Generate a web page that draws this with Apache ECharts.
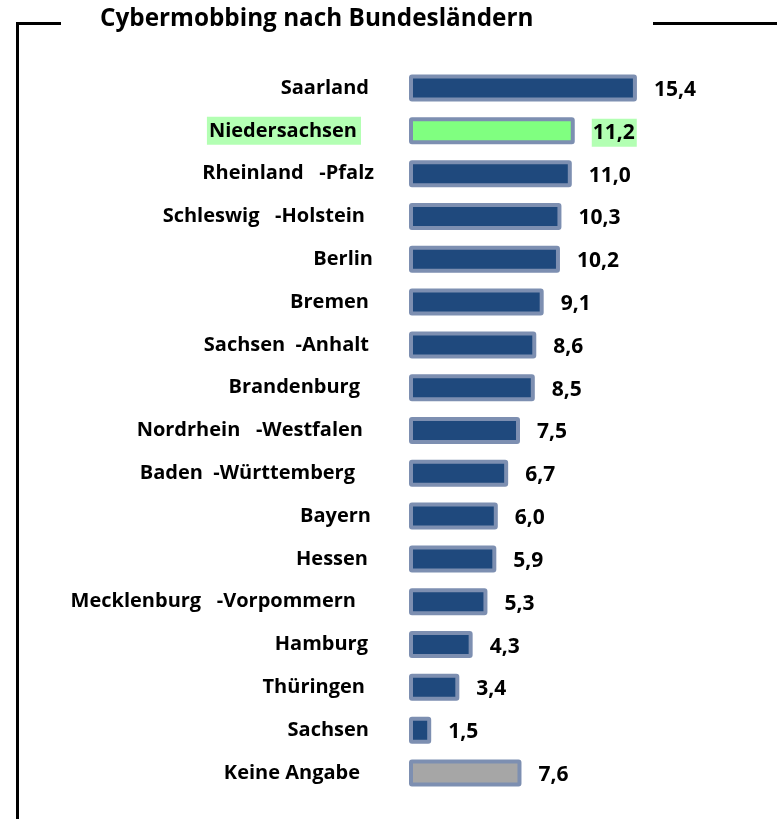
<!DOCTYPE html>
<html>
<head>
<meta charset="utf-8">
<script src="https://cdn.jsdelivr.net/npm/echarts@6/dist/echarts.min.js"></script>
<style>
  html, body { margin: 0; padding: 0; background: #ffffff; }
  #chart { width: 777px; height: 819px; }
</style>
</head>
<body>
<div id="chart"></div>
<script>
// Federal states, top to bottom
const states = [
  'Saarland', 'Niedersachsen', 'Rheinland   -Pfalz', 'Schleswig   -Holstein',
  'Berlin', 'Bremen', 'Sachsen  -Anhalt', 'Brandenburg',
  'Nordrhein   -Westfalen', 'Baden  -Württemberg', 'Bayern', 'Hessen',
  'Mecklenburg   -Vorpommern', 'Hamburg', 'Thüringen', 'Sachsen', 'Keine Angabe'
];
// Share of cybermobbing cases in percent
const shares = [15.4, 11.2, 11.0, 10.3, 10.2, 9.1, 8.6, 8.5, 7.5, 6.7, 6.0, 5.9, 5.3, 4.3, 3.4, 1.5, 7.6];
const chartTitle = 'Cybermobbing nach Bundesländern';

// Styling
const FONT = '"Open Sans"';
const LABEL_SIZE = 20;
const VALUE_SIZE = 21;
const BAR_FILL = '#1f497d';
const BAR_EDGE = '#7d8fb1';
const HIGHLIGHT_FILL = '#80ff80';
const HIGHLIGHT_BG = '#b3ffb3';
const NO_ANSWER_FILL = '#a6a6a6';
const highlightIndex = 1;
const noAnswerIndex = states.length - 1;
// right-hand gap of each category label (px)
const labelGap = [5, 13, 0, 9, 1, 5, 5, 14, 11, 19, 3, 6, 18, 6, 9, 5, 14];

const fmt = v => v.toFixed(1).replace('.', ',');

const rich = {
  t: { fontFamily: FONT, fontWeight: 'bold', fontSize: LABEL_SIZE, color: '#000' },
  hl: { fontFamily: FONT, fontWeight: 'bold', fontSize: LABEL_SIZE, color: '#000',
        backgroundColor: HIGHLIGHT_BG, padding: [4, 4, 4, 2] }
};
labelGap.forEach((g, i) => { rich['g' + i] = { width: g, fontSize: LABEL_SIZE, fontFamily: FONT }; });

const barData = shares.map((v, i) => {
  let fill = BAR_FILL;
  if (i === highlightIndex) fill = HIGHLIGHT_FILL;
  if (i === noAnswerIndex) fill = NO_ANSWER_FILL;
  const item = { value: v, itemStyle: { color: fill } };
  if (i === highlightIndex) {
    item.label = { backgroundColor: HIGHLIGHT_BG, padding: [4, 2, 3, 1] };
  }
  return item;
});

const chart = echarts.init(document.getElementById('chart'));
chart.setOption({
  animation: false,
  backgroundColor: '#ffffff',
  grid: { left: 409, right: 72, top: 66.6, bottom: 24.6, containLabel: false },
  xAxis: { type: 'value', min: 0, max: 20, show: false },
  yAxis: {
    type: 'category',
    inverse: true,
    data: states,
    axisLine: { show: false },
    axisTick: { show: false },
    axisLabel: {
      margin: 35,
      formatter: (val, idx) => (idx === highlightIndex ? '{hl|' + val + '}' : '{t|' + val + '}') + '{g' + idx + '| }',
      rich: rich
    }
  },
  series: [{
    type: 'bar',
    data: barData,
    barWidth: 27,
    itemStyle: { borderColor: BAR_EDGE, borderWidth: 4, borderRadius: 1 },
    label: {
      show: true,
      position: 'right',
      distance: 17,
      offset: [0, 2],
      fontFamily: FONT,
      fontWeight: 'bold',
      fontSize: VALUE_SIZE,
      color: '#000',
      formatter: p => fmt(p.value)
    }
  }],
  graphic: [
    { type: 'text', left: 100, top: 7,
      style: { text: chartTitle, fontFamily: FONT, fontWeight: 'bold', fontSize: 24.3, fill: '#000' } },
    { type: 'polyline', shape: { points: [[61, 23.5], [17.5, 23.5], [17.5, 819]] },
      style: { stroke: '#000', lineWidth: 3, fill: null } },
    { type: 'line', shape: { x1: 653, y1: 23.5, x2: 777, y2: 23.5 },
      style: { stroke: '#000', lineWidth: 3 } }
  ]
});
</script>
</body>
</html>
